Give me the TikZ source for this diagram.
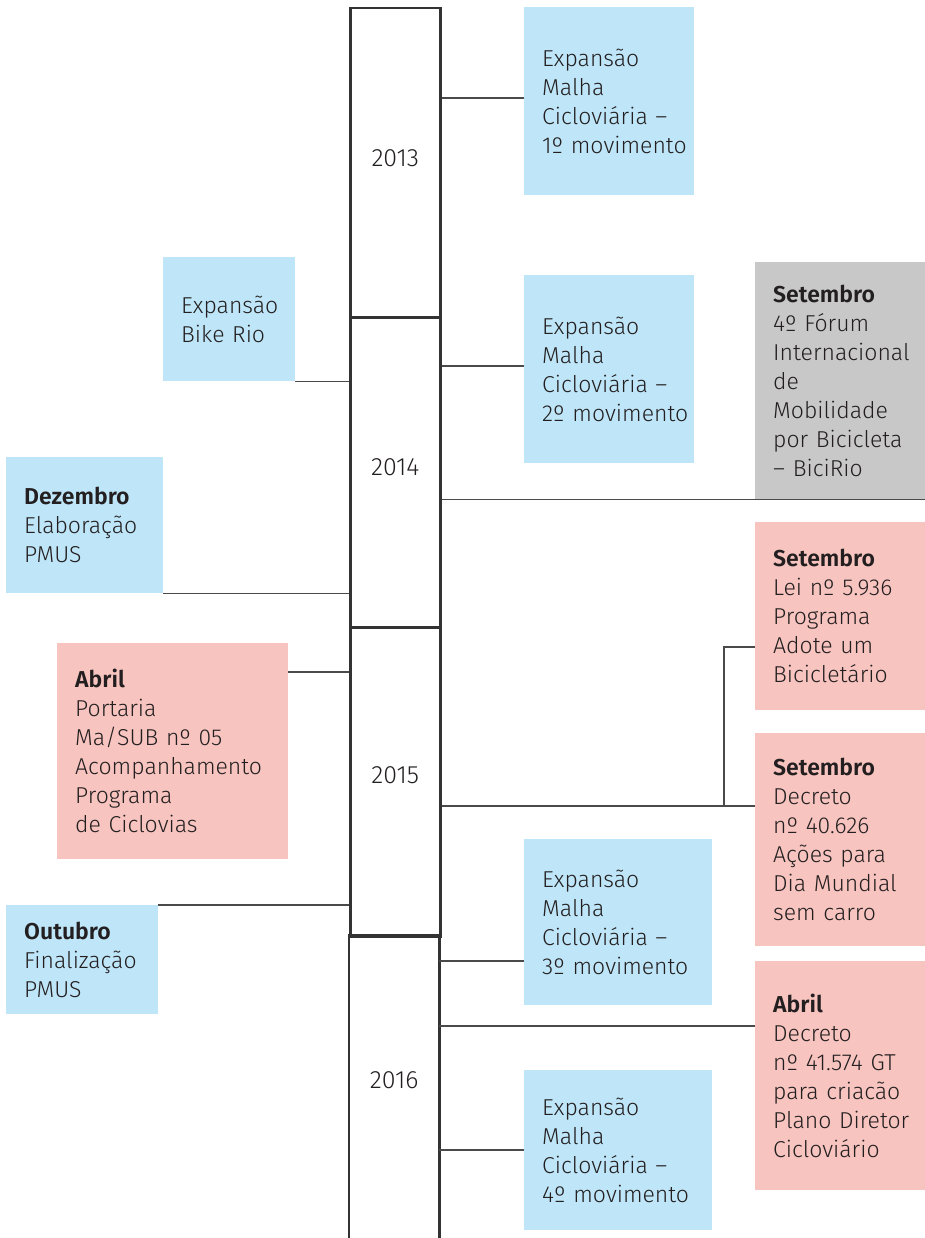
\documentclass[tikz,border=0pt]{standalone}
\usepackage{fontspec}
\setmainfont{Fira Sans}[UprightFont={* Light},BoldFont={* SemiBold}]
\definecolor{ciclo}{HTML}{BFE6F8}
\definecolor{marco}{HTML}{F7C4BF}
\definecolor{forum}{HTML}{C8C8C8}
\definecolor{ink}{HTML}{231F20}
\definecolor{haste}{HTML}{333333}
\definecolor{fio}{HTML}{4A4A4A}
\begin{document}
\begin{tikzpicture}[x=1pt,y=-1pt]
		\tikzset{year/.style = {anchor=north west, minimum width=90pt, inner sep=0pt, font=\fontsize{25}{29}\selectfont, text=ink}}
		\tikzset{event/.style = {anchor=north west, inner xsep=18pt, inner ysep=0pt, align=left, font={\fontsize{23}{29}\selectfont\hyphenpenalty=10000\relax}, text=ink}}
		\tikzset{bluebox/.style = {event, fill=ciclo}}
		\tikzset{pinkbox/.style = {event, fill=marco}}
		\tikzset{graybox/.style = {event, fill=forum}}
		\tikzset{link/.style = {draw=fio, line width=1.4pt}}
		
		\useasboundingbox (0,0) rectangle (925,1238);
		
		% anos
		\node[year, minimum height=309pt, draw=haste, line width=2.5pt] (y13) at (349,   7) {\raisebox{10pt}{2013}};
		\node[year, minimum height=310pt, draw=haste, line width=2.5pt] (y14) at (349, 316) {\raisebox{10pt}{2014}};
		\node[year, minimum height=309pt, draw=haste, line width=2.5pt] (y15) at (349, 626) {\raisebox{13pt}{2015}};
		\node[year, minimum height=303pt] (y16) at (349, 935) {\raisebox{14pt}{2016}};
		\draw[draw=haste, line width=2.5pt] (y16.south west) -- (y16.north west) -- (y16.north east) -- (y16.south east);
		
		% caixas
		\node[bluebox, text width=134pt, minimum height=188pt] (m1) at (524,   7) {Expansão\\Malha\\Cicloviária~–\\1º~movimento};
		\node[bluebox, text width= 96pt, minimum height=124pt] (bike) at (163, 257) {Expansão\\Bike~Rio};
		\node[bluebox, text width=134pt, minimum height=188pt] (m2) at (524, 275) {Expansão\\Malha\\Cicloviária~–\\2º~movimento};
		\node[graybox, text width=134pt, minimum height=237pt] (forum) at (755, 262) {\textbf{Setembro}\\4º~Fórum\\Internacional\\de\\Mobilidade\\por~Bicicleta\\–~BiciRio};
		\node[bluebox, text width=121pt, minimum height=136pt] (dez) at (  6, 457) {\textbf{Dezembro}\\Elaboração\\PMUS};
		\node[pinkbox, text width=195pt, minimum height=216pt] (abr) at ( 57, 643) {\textbf{Abril}\\Portaria\\Ma/SUB~nº~05\\Acompanhamento\\Programa\\de~Ciclovias};
		\node[pinkbox, text width=134pt, minimum height=188pt] (lei) at (755, 522) {\textbf{Setembro}\\Lei~nº~5.936\\Programa\\Adote~um\\Bicicletário};
		\node[pinkbox, text width=134pt, minimum height=213pt] (dec) at (755, 733) {\textbf{Setembro}\\Decreto\\nº~40.626\\Ações~para\\Dia~Mundial\\sem~carro};
		\node[bluebox, text width=116pt, minimum height=109pt] (out) at (  6, 905) {\textbf{Outubro}\\Finalização\\PMUS};
		\node[bluebox, text width=152pt, minimum height=166pt] (m3) at (524, 839) {Expansão\\Malha\\Cicloviária~–\\3º~movimento};
		\node[pinkbox, text width=134pt, minimum height=229pt] (gt) at (755, 961) {\textbf{Abril}\\Decreto\\nº~41.574~GT\\para~criacão\\Plano~Diretor\\Cicloviário};
		\node[bluebox, text width=152pt, minimum height=160pt] (m4) at (524,1070) {Expansão\\Malha\\Cicloviária~–\\4º~movimento};
		
		\coordinate (split) at (724, 806);
		
		% ligacoes
		\draw[link] (y13.east |- 0,  98) -- (m1.west |- 0,  98);
		\draw[link] (bike.south east) -- (bike.south east -| y14.west);
		\draw[link] (y14.east |- 0, 366) -- (m2.west |- 0, 366);
		\draw[link] (forum.south east) -- (forum.south east -| y14.east);
		\draw[link] (dez.south east) -- (dez.south east -| y14.west);
		\draw[link] (abr.east |- 0, 672) -- (y15.west |- 0, 672);
		\draw[link] (lei.west |- 0, 647) -- (split |- 0, 647) -- (split);
		\draw[link] (y15.east |- split) -- (dec.west |- split);
		\draw[link] (out.north east) -- (out.north east -| y15.west);
		\draw[link] (y16.east |- 0, 961) -- (m3.west |- 0, 961);
		\draw[link] (y16.east |- 0,1026) -- (gt.west |- 0,1026);
		\draw[link] (y16.east |- 0,1150) -- (m4.west |- 0,1150);
\end{tikzpicture}
\end{document}
